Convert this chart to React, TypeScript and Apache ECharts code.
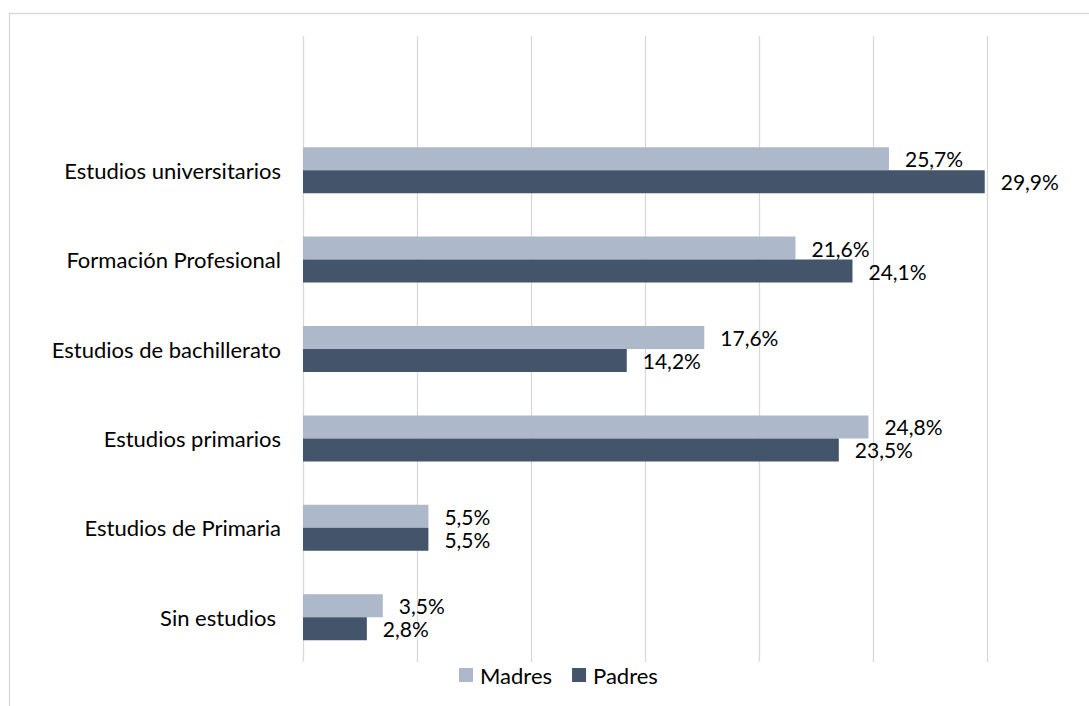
import React, { useEffect, useRef } from "react";
import * as echarts from "echarts";

const categories = [
  "",
  "Estudios universitarios",
  "Formación Profesional",
  "Estudios de bachillerato",
  "Estudios primarios",
  "Estudios de Primaria",
  "Sin estudios",
];
const madres = [null, 25.7, 21.6, 17.6, 24.8, 5.5, 3.5];
const padres = [null, 29.9, 24.1, 14.2, 23.5, 5.5, 2.8];
const seriesNames = ["Madres", "Padres"];
const axisMax = 30;
const axisInterval = 5;

const FONT = "Lato, 'Open Sans', sans-serif";
const FS = 22;
const FS_LABEL = 21;

const fmt = (p: any) =>
  p.value == null ? "" : Number(p.value).toFixed(1).replace(".", ",") + "%";

export default function App() {
  const ref = useRef<HTMLDivElement>(null);
  useEffect(() => {
    if (!ref.current) return;
    const chart = echarts.init(ref.current, null, { renderer: "svg" });
    const barLabel = {
      show: true,
      position: "right",
      distance: 16,
      formatter: fmt,
      fontFamily: FONT,
      fontSize: FS_LABEL,
      color: "#000",
    };
    chart.setOption({
      animation: false,
      backgroundColor: "#ffffff",
      textStyle: { fontFamily: FONT },
      graphic: [
        {
          type: "rect",
          shape: { x: 9.5, y: 13.5, width: 1200, height: 800 },
          style: { fill: "none", stroke: "#D9D9D9", lineWidth: 1.3 },
          silent: true,
          z: -10,
        },
      ],
      grid: { left: 303, right: 102, top: 36, bottom: 44, containLabel: false },
      legend: {
        data: seriesNames,
        left: 454,
        top: 659,
        itemWidth: 14,
        itemHeight: 14,
        itemGap: 20,
        icon: "rect",
        textStyle: { fontFamily: FONT, fontSize: FS, color: "#000", padding: [0, 0, 0, 2] },
      },
      xAxis: {
        type: "value",
        min: 0,
        max: axisMax,
        interval: axisInterval,
        axisLabel: { show: false },
        axisLine: { show: false },
        axisTick: { show: false },
        splitLine: { show: true, lineStyle: { color: "#D9D9D9", width: 1.3 } },
      },
      yAxis: {
        type: "category",
        inverse: true,
        data: categories,
        axisLine: { show: false },
        axisTick: { show: false },
        axisLabel: {
          fontFamily: FONT,
          fontSize: FS,
          color: "#000",
          margin: 22,
          formatter: (v: string) => (v === "Sin estudios" ? `{p|${v}}` : v),
          rich: {
            p: { fontFamily: FONT, fontSize: FS, color: "#000", padding: [0, 5, 0, 0] },
          },
        },
      },
      series: [
        {
          name: seriesNames[0],
          type: "bar",
          data: madres,
          barWidth: 23,
          barGap: "0%",
          itemStyle: { color: "#ADB9CA" },
          label: barLabel,
        },
        {
          name: seriesNames[1],
          type: "bar",
          data: padres,
          barWidth: 23,
          barGap: "0%",
          itemStyle: { color: "#44546A" },
          label: barLabel,
        },
      ],
    });
    return () => chart.dispose();
  }, []);
  return (
    <div
      ref={ref}
      style={{ position: "fixed", left: 0, top: 0, width: 1089, height: 706 }}
    />
  );
}
